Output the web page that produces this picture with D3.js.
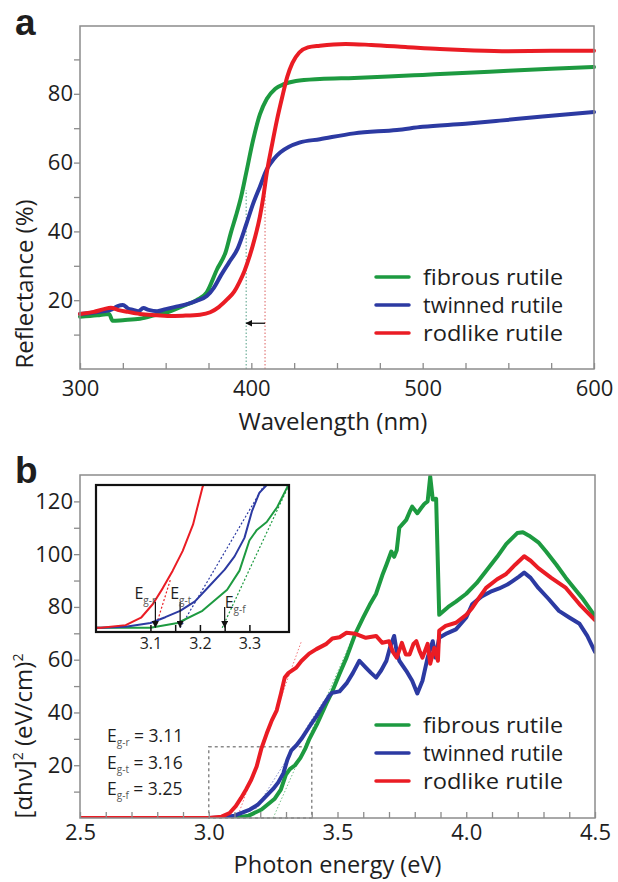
<!DOCTYPE html>
<html>
<head>
<meta charset="utf-8">
<script src="https://cdn.jsdelivr.net/npm/d3@7"></script>
<style>
  body { margin: 0; background: #fff; }
  svg { display: block; }
  text { font-family: "Open Sans", sans-serif; fill: #1e1e1e; }
</style>
</head>
<body>
<svg width="618" height="882"></svg>
<script>
// series, same order in both panels
const seriesNames = ["fibrous rutile", "twinned rutile", "rodlike rutile"];
const seriesColors = ["#1d9a40", "#2c3aa2", "#ea1c24"];

// panel a : wavelength (nm), reflectance (%)
const fibrousRefl = [[300,15.2],[310,15.6],[317,16],[319,14],[325,14.2],[335,14.6],[345,15.8],[351,16.5],[360,18.3],[368,20],[374,22.3],[380,29],[385,34],[388,39.5],[391,44.5],[394,50],[397,57],[401,66.5],[405,74],[409,78.5],[414,81.5],[419,82.8],[426,83.7],[440,84.3],[460,84.6],[480,85],[500,85.5],[520,86],[550,86.7],[575,87.3],[600,87.8]];
const twinnedRefl = [[300,16],[310,16.6],[318,17.2],[322,18.3],[325,18.6],[328,17.6],[331,17.2],[334,16.8],[337,17.7],[340,17.2],[345,16.8],[350,17.4],[355,18],[362,18.8],[368,19.8],[374,21.2],[378,23.5],[382,27],[387,31],[392,35],[397,42],[401,48],[405,53],[409,58],[413,61],[417,63],[422,64.6],[428,65.8],[440,66.8],[460,68.5],[485,69.5],[500,70.4],[525,71.3],[545,72.2],[570,73.4],[600,74.7]];
const rodlikeRefl = [[300,16],[308,16.6],[314,17.4],[318,17.8],[322,17.2],[328,16.6],[335,16],[345,15.6],[351,15.4],[360,15.5],[370,15.8],[376,16.5],[381,18],[386,20.3],[390,22.5],[393,25.2],[396,28.5],[399,32.8],[402,38],[405,44.3],[407,50],[409,57],[412,65],[415,72.5],[418,79],[421,85],[424,89],[428,92],[433,93.5],[440,94],[455,94.5],[470,94.2],[490,93.6],[510,93],[530,92.6],[550,92.4],[575,92.5],[600,92.5]];
const wlTicks = [300,325,350,375,400,425,450,475,500,525,550,575,600];
const wlLabels = [300,400,500,600];
const reflTicks = [10,20,30,40,50,60,70,80,90];
const reflLabels = [20,40,60,80];
const edgeWl = [397, 408];          // dotted absorption edges (fibrous, rodlike)
const edgeWlTop = 52;               // reflectance where the dotted edges stop
const shiftArrow = [408, 397, 13.3]; // from, to, at reflectance

// panel b : photon energy (eV), [αhν]²
const fibrousTauc = [[2.5,0],[3.0,0],[3.1,0],[3.155,0.9],[3.205,3.2],[3.255,7.2],[3.28,10.8],[3.3,16.5],[3.315,18.5],[3.335,20],[3.356,22.8],[3.376,26.5],[3.391,30],[3.42,35.5],[3.457,43.4],[3.48,48],[3.508,54.7],[3.535,60.8],[3.57,70],[3.6,76],[3.625,80.8],[3.65,85],[3.674,92],[3.69,96],[3.709,101],[3.72,99],[3.73,101.5],[3.74,110],[3.767,113],[3.78,116],[3.79,118],[3.81,115.5],[3.825,117.5],[3.837,119],[3.85,120],[3.86,129.4],[3.87,120.7],[3.883,121],[3.895,77],[3.93,80],[3.96,82],[4.0,85],[4.04,89],[4.077,93.6],[4.12,99],[4.155,103.8],[4.198,108],[4.22,108.3],[4.244,107],[4.28,104.5],[4.31,101],[4.35,96],[4.387,91],[4.42,87],[4.45,83.4],[4.5,76.5]];
const twinnedTauc = [[2.5,0],[3.0,0],[3.05,0.2],[3.1,0.9],[3.13,2],[3.16,3.2],[3.19,5],[3.22,8],[3.25,11],[3.27,13.5],[3.29,17],[3.305,22],[3.32,25.5],[3.34,27.5],[3.36,30],[3.39,34.5],[3.418,38.5],[3.44,42],[3.469,46.5],[3.48,47.5],[3.508,48],[3.535,51],[3.56,55],[3.585,59.6],[3.61,57],[3.63,55],[3.65,53.2],[3.67,56],[3.69,59.6],[3.705,65],[3.72,69],[3.73,63],[3.74,59.6],[3.767,55.8],[3.79,52],[3.81,47.2],[3.83,52],[3.85,60.8],[3.87,67],[3.88,60.8],[3.895,68.3],[3.925,70],[3.96,71.5],[4.0,76],[4.023,81],[4.06,84],[4.1,86],[4.128,87],[4.16,88.5],[4.18,89.8],[4.205,91.5],[4.225,93],[4.25,91],[4.28,87.2],[4.32,83],[4.36,78.5],[4.4,76],[4.44,73.6],[4.47,69],[4.5,63]];
const rodlikeTauc = [[2.5,0],[2.9,0],[3.0,0],[3.05,0.5],[3.081,1.9],[3.105,4.5],[3.125,7.5],[3.145,10.8],[3.165,14.5],[3.186,19.5],[3.205,26.5],[3.225,32],[3.245,37],[3.264,40.8],[3.28,47],[3.295,53.2],[3.31,55],[3.34,57],[3.36,59.5],[3.39,62.3],[3.418,64],[3.457,66],[3.48,68],[3.508,68.5],[3.535,70.2],[3.57,69.8],[3.61,68.3],[3.65,69],[3.674,66.4],[3.7,67],[3.715,63],[3.73,60.8],[3.75,66.4],[3.765,62],[3.78,62],[3.795,66],[3.806,67],[3.82,63],[3.83,60.8],[3.85,66],[3.86,58.5],[3.876,64.5],[3.89,59.6],[3.895,71],[3.92,72.8],[3.96,74],[4.0,77],[4.023,79.6],[4.05,83.5],[4.077,87.2],[4.12,90.5],[4.155,92.5],[4.19,96],[4.225,99.2],[4.25,97.5],[4.28,94.7],[4.33,91],[4.387,87.2],[4.44,81],[4.5,75]];
const eTicks = [2.5,2.6,2.7,2.8,2.9,3.0,3.1,3.2,3.3,3.4,3.5,3.6,3.7,3.8,3.9,4.0,4.1,4.2,4.3,4.4,4.5];
const eLabels = [2.5,3.0,3.5,4.0,4.5];
const taucTicks = [10,20,30,40,50,60,70,80,90,100,110,120];
const taucLabels = [20,40,60,80,100,120];
const zoomBox = [3.0, 3.4, 0, 27];   // dashed region shown in the inset
// band gaps, same order as series
const gapNames = ["g-f", "g-t", "g-r"];
const gapValues = [3.25, 3.16, 3.11];
// tangent extrapolations [x1,y1,x2,y2]
const tangentsMain = [[3.25,0,3.58,73],[3.16,0,3.45,45],[3.11,0,3.36,67]];
const tangentsInset = [[3.245,0,3.38,27],[3.16,0,3.33,27],[3.11,0,3.14,9]];
const insetTicks = [3.1,3.15,3.2,3.25,3.3];
const insetLabels = [3.1,3.2,3.3];
const gapArrowTop = [2.4, 3.4, 3.4];

const svg = d3.select("svg");
const frameCol = "#8c8c8c";

const defs = svg.append("defs");
defs.append("marker").attr("id", "arr")
  .attr("viewBox", "0 0 10 10").attr("refX", 9).attr("refY", 5)
  .attr("markerWidth", 7).attr("markerHeight", 7).attr("markerUnits", "userSpaceOnUse")
  .attr("orient", "auto")
  .append("path").attr("d", "M0,0L10,5L0,10z").attr("fill", "#111");

function drawAxes(g, x, y, box, o) {
  g.append("g").attr("transform", `translate(0,${box.b})`)
    .call(d3.axisBottom(x).tickValues(o.xt).tickSize(-6).tickSizeOuter(0).tickPadding(o.xpad)
      .tickFormat(d => o.xl.includes(d) ? o.xf(d) : ""))
    .call(a => a.select(".domain").remove())
    .call(a => a.selectAll("line").attr("stroke", frameCol).attr("stroke-width", 1.3))
    .call(a => a.selectAll("text").attr("font-size", 22).attr("fill", "#1e1e1e"));
  g.append("g").attr("transform", `translate(${box.l},0)`)
    .call(d3.axisLeft(y).tickValues(o.yt).tickSize(6).tickSizeOuter(0).tickPadding(1)
      .tickFormat(d => o.yl.includes(d) ? d : ""))
    .call(a => a.select(".domain").remove())
    .call(a => a.selectAll("line").attr("stroke", frameCol).attr("stroke-width", 1.3))
    .call(a => a.selectAll("text").attr("font-size", 22).attr("fill", "#1e1e1e"));
  g.append("rect").attr("x", box.l).attr("y", box.t)
    .attr("width", box.r - box.l).attr("height", box.b - box.t)
    .attr("fill", "none").attr("stroke", frameCol).attr("stroke-width", 1.5);
}

function legend(g, x0, y0) {
  seriesNames.forEach((name, i) => {
    const y = y0 + i * 28;
    g.append("line").attr("x1", x0).attr("x2", x0 + 33).attr("y1", y).attr("y2", y)
      .attr("stroke", seriesColors[i]).attr("stroke-width", 3.5).attr("stroke-linecap", "round");
    g.append("text").attr("x", x0 + 47).attr("y", y).attr("dy", "0.35em")
      .attr("font-size", 22).attr("textLength", 140).attr("lengthAdjust", "spacingAndGlyphs")
      .text(name);
  });
}

function panelLetter(letter, y) {
  svg.append("text").attr("x", 15).attr("y", y).attr("font-size", 37)
    .attr("font-weight", "bold").attr("font-family", "'Liberation Sans', Arial, sans-serif")
    .style("font-family", "'Liberation Sans', Arial, sans-serif").text(letter);
}

// ---------------- panel a
const A = {l: 80, r: 594, t: 26, b: 369};
const xA = d3.scaleLinear().domain([300, 600]).range([A.l, A.r]);
const yA = d3.scaleLinear().domain([0, 100]).range([A.b, A.t - 1]);
const gA = svg.append("g");

panelLetter("a", 35);

gA.selectAll(".edge").data(edgeWl).enter().append("line")
  .attr("x1", d => xA(d)).attr("x2", d => xA(d))
  .attr("y1", yA(0)).attr("y2", yA(edgeWlTop))
  .attr("stroke", (d, i) => i === 0 ? "#6fae9a" : "#e27a7a")
  .attr("stroke-width", 1.2).attr("stroke-dasharray", "1.5,2");

gA.append("line")
  .attr("x1", xA(shiftArrow[0])).attr("x2", xA(shiftArrow[1]))
  .attr("y1", yA(shiftArrow[2])).attr("y2", yA(shiftArrow[2]))
  .attr("stroke", "#111").attr("stroke-width", 1.3).attr("marker-end", "url(#arr)");

const lineA = d3.line().x(d => xA(d[0])).y(d => yA(d[1])).curve(d3.curveMonotoneX);
[fibrousRefl, twinnedRefl, rodlikeRefl].forEach((s, i) => {
  gA.append("path").datum(s).attr("d", lineA).attr("fill", "none")
    .attr("stroke", seriesColors[i]).attr("stroke-width", 4)
    .attr("stroke-linejoin", "round").attr("stroke-linecap", "round");
});

drawAxes(gA, xA, yA, A, {xt: wlTicks, xl: wlLabels, xf: d => d, xpad: 11, yt: reflTicks, yl: reflLabels});
legend(gA, 376, 277);

gA.append("text").attr("x", (A.l + A.r) / 2 - 4).attr("y", 430)
  .attr("text-anchor", "middle").attr("font-size", 24).text("Wavelength (nm)");
gA.append("text").attr("transform", "translate(33,284) rotate(-90)")
  .attr("text-anchor", "middle").attr("font-size", 24).text("Reflectance (%)");

// ---------------- panel b
const B = {l: 80, r: 595, t: 475, b: 818};
const xB = d3.scaleLinear().domain([2.5, 4.5]).range([B.l, B.r]);
const yB = d3.scaleLinear().domain([0, 130]).range([B.b, B.t]);
const gB = svg.append("g");

panelLetter("b", 483);

defs.append("clipPath").attr("id", "clipB").append("rect")
  .attr("x", B.l).attr("y", B.t).attr("width", B.r - B.l).attr("height", B.b - B.t);

gB.append("rect")
  .attr("x", xB(zoomBox[0])).attr("y", yB(zoomBox[3]))
  .attr("width", xB(zoomBox[1]) - xB(zoomBox[0])).attr("height", yB(zoomBox[2]) - yB(zoomBox[3]))
  .attr("fill", "none").attr("stroke", "#8a8a8a").attr("stroke-width", 1.5).attr("stroke-dasharray", "3,3");

const lineB = d3.line().x(d => xB(d[0])).y(d => yB(d[1]));
const curvesB = gB.append("g").attr("clip-path", "url(#clipB)");
tangentsMain.forEach((t, i) => {
  curvesB.append("line").attr("x1", xB(t[0])).attr("y1", yB(t[1])).attr("x2", xB(t[2])).attr("y2", yB(t[3]))
    .attr("stroke", seriesColors[i]).attr("stroke-opacity", 0.6).attr("stroke-width", 1)
    .attr("stroke-dasharray", "1.5,2");
});
[fibrousTauc, twinnedTauc, rodlikeTauc].forEach((s, i) => {
  curvesB.append("path").datum(s).attr("d", lineB).attr("fill", "none")
    .attr("stroke", seriesColors[i]).attr("stroke-width", 4)
    .attr("stroke-linejoin", "round").attr("stroke-linecap", "round");
});

drawAxes(gB, xB, yB, B, {xt: eTicks, xl: eLabels, xf: d3.format(".1f"), xpad: 6, yt: taucTicks, yl: taucLabels});
legend(gB, 376, 725);

gB.append("text").attr("x", (B.l + B.r) / 2).attr("y", 873)
  .attr("text-anchor", "middle").attr("font-size", 23.5).text("Photon energy (eV)");
const yTitle = gB.append("text").attr("transform", "translate(32,736) rotate(-90)")
  .attr("text-anchor", "middle").attr("font-size", 24);
yTitle.append("tspan").text("[αhν]");
yTitle.append("tspan").attr("dy", -9).attr("font-size", 14).text("2");
yTitle.append("tspan").attr("dy", 9).text(" (eV/cm)");
yTitle.append("tspan").attr("dy", -9).attr("font-size", 14).text("2");

// gap values, listed red/twinned/fibrous from top
[2, 1, 0].forEach((k, row) => {
  const t = gB.append("text").attr("x", 107).attr("y", 742 + row * 26.5).attr("font-size", 17.5);
  t.append("tspan").text("E");
  t.append("tspan").attr("dy", 4).attr("font-size", 10).attr("fill", "#555").text(gapNames[k]);
  t.append("tspan").attr("dy", -4).text(" = " + gapValues[k].toFixed(2));
});

// ---------------- inset
const I = {l: 96, r: 289, t: 485, b: 632};
const xI = d3.scaleLinear().domain([2.99, 3.38]).range([I.l, I.r]);
const yI = d3.scaleLinear().domain([-0.8, 27]).range([I.b, I.t]);
const gI = svg.append("g");
defs.append("clipPath").attr("id", "clipI").append("rect")
  .attr("x", I.l).attr("y", I.t).attr("width", I.r - I.l).attr("height", I.b - I.t);

gI.append("rect").attr("x", I.l).attr("y", I.t).attr("width", I.r - I.l).attr("height", I.b - I.t)
  .attr("fill", "#fff");
const curvesI = gI.append("g").attr("clip-path", "url(#clipI)");
const lineI = d3.line().x(d => xI(d[0])).y(d => yI(d[1]));
tangentsInset.forEach((t, i) => {
  curvesI.append("line").attr("x1", xI(t[0])).attr("y1", yI(t[1])).attr("x2", xI(t[2])).attr("y2", yI(t[3]))
    .attr("stroke", seriesColors[i]).attr("stroke-width", 1.2).attr("stroke-dasharray", "2,2");
});
[fibrousTauc, twinnedTauc, rodlikeTauc].forEach((s, i) => {
  curvesI.append("path").datum(s).attr("d", lineI).attr("fill", "none")
    .attr("stroke", seriesColors[i]).attr("stroke-width", 2).attr("stroke-linejoin", "round");
});

gI.append("g").attr("transform", `translate(0,${I.b})`)
  .call(d3.axisBottom(xI).tickValues(insetTicks).tickSize(-7).tickSizeOuter(0).tickPadding(6)
    .tickFormat(d => insetLabels.includes(d) ? d3.format(".1f")(d) : ""))
  .call(a => a.select(".domain").remove())
  .call(a => a.selectAll("line").attr("stroke", "#111").attr("stroke-width", 1.5))
  .call(a => a.selectAll("text").attr("font-size", 16).attr("fill", "#1e1e1e"));

gI.append("rect").attr("x", I.l).attr("y", I.t).attr("width", I.r - I.l).attr("height", I.b - I.t)
  .attr("fill", "none").attr("stroke", "#111").attr("stroke-width", 2.2);

// gap arrows and labels in the inset
const labelShift = [0, -10, -21];
gapValues.forEach((v, i) => {
  gI.append("line").attr("x1", xI(v)).attr("x2", xI(v))
    .attr("y1", yI(gapArrowTop[i]) - 8).attr("y2", yI(0.1))
    .attr("stroke", "#111").attr("stroke-width", 1.2).attr("marker-end", "url(#arr)");
  const t = gI.append("text").attr("x", xI(v) + labelShift[i])
    .attr("y", i === 0 ? 608 : 599).attr("font-size", 16);
  t.append("tspan").text("E");
  t.append("tspan").attr("dy", 5).attr("font-size", 10).attr("fill", "#555").text(gapNames[i]);
});
</script>
</body>
</html>
